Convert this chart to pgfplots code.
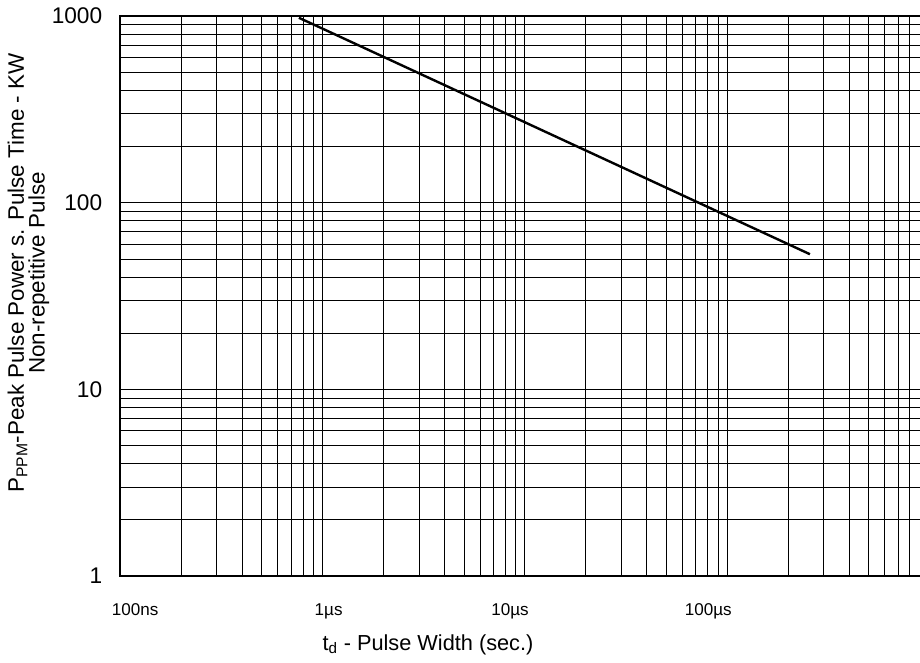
\documentclass[border=0pt]{standalone}
\usepackage{pgfplots}
\pgfplotsset{compat=1.18}
\usepackage{fontspec}
\setmainfont{Liberation Sans}
\begin{document}
\begin{tikzpicture}
\begin{axis}[
  at={(0,0)}, anchor=south west,
  xmode=log, ymode=log,
  scale only axis,
  width=606.9pt, height=419.9pt,
  xmin=1e-7, xmax=1e-3,
  ymin=1, ymax=1000,
  xtick={1e-7,1e-6,1e-5,1e-4,1e-3},
  xticklabels={,,,,},
  minor xtick={2e-7,3e-7,4e-7,5e-7,6e-7,7e-7,8e-7,9e-7,
               2e-6,3e-6,4e-6,5e-6,6e-6,7e-6,8e-6,9e-6,
               2e-5,3e-5,4e-5,5e-5,6e-5,7e-5,8e-5,9e-5,
               2e-4,3e-4,4e-4,5e-4,6e-4,7e-4,8e-4,9e-4},
  ytick={1,10,100,1000},
  yticklabels={1,10,100,1000},
  minor ytick={2,3,4,5,6,7,8,9,20,30,40,50,60,70,80,90,200,300,400,500,600,700,800,900},
  major tick length=0pt, minor tick length=0pt,
  grid=both,
  major grid style={black, line width=0.6pt},
  minor grid style={black, line width=0.6pt},
  axis line style={black, line width=1.5pt},
  yticklabel style={font=\fontsize{17}{20}\selectfont, anchor=east, xshift=-10pt},
  extra x ticks={1.185e-7,1.072e-6,8.44e-6,8.06e-5},
  extra x tick labels={100ns,1µs,10µs,100µs},
  extra x tick style={grid=none, major tick length=0pt,
     xticklabel style={font=\fontsize{12.8}{15}\selectfont, anchor=base, yshift=-29.25pt}},
  xlabel={t\textsubscript{d} - Pulse Width (sec.)},
  xlabel style={font=\fontsize{16.3}{19}\selectfont, at={(rel axis cs:0.3803,0)}, anchor=base, yshift=-55.5pt},
  ylabel={P\textsubscript{PPM}-Peak Pulse Power s. Pulse Time - KW\\Non-repetitive Pulse},
  ylabel style={font=\fontsize{16.8}{15.5}\selectfont, align=center, at={(rel axis cs:-0.1135,0.541)}, anchor=center},
]
\addplot[black, line width=1.8pt] coordinates {
  (7.64e-7, 980) (1e-6, 857) (1e-5, 270) (1e-4, 85) (2.566e-4, 53)
};
\end{axis}
\pgfresetboundingbox
\useasboundingbox (-90.2pt,-64.5pt) rectangle (599.8pt,432pt);
\end{tikzpicture}
\end{document}
